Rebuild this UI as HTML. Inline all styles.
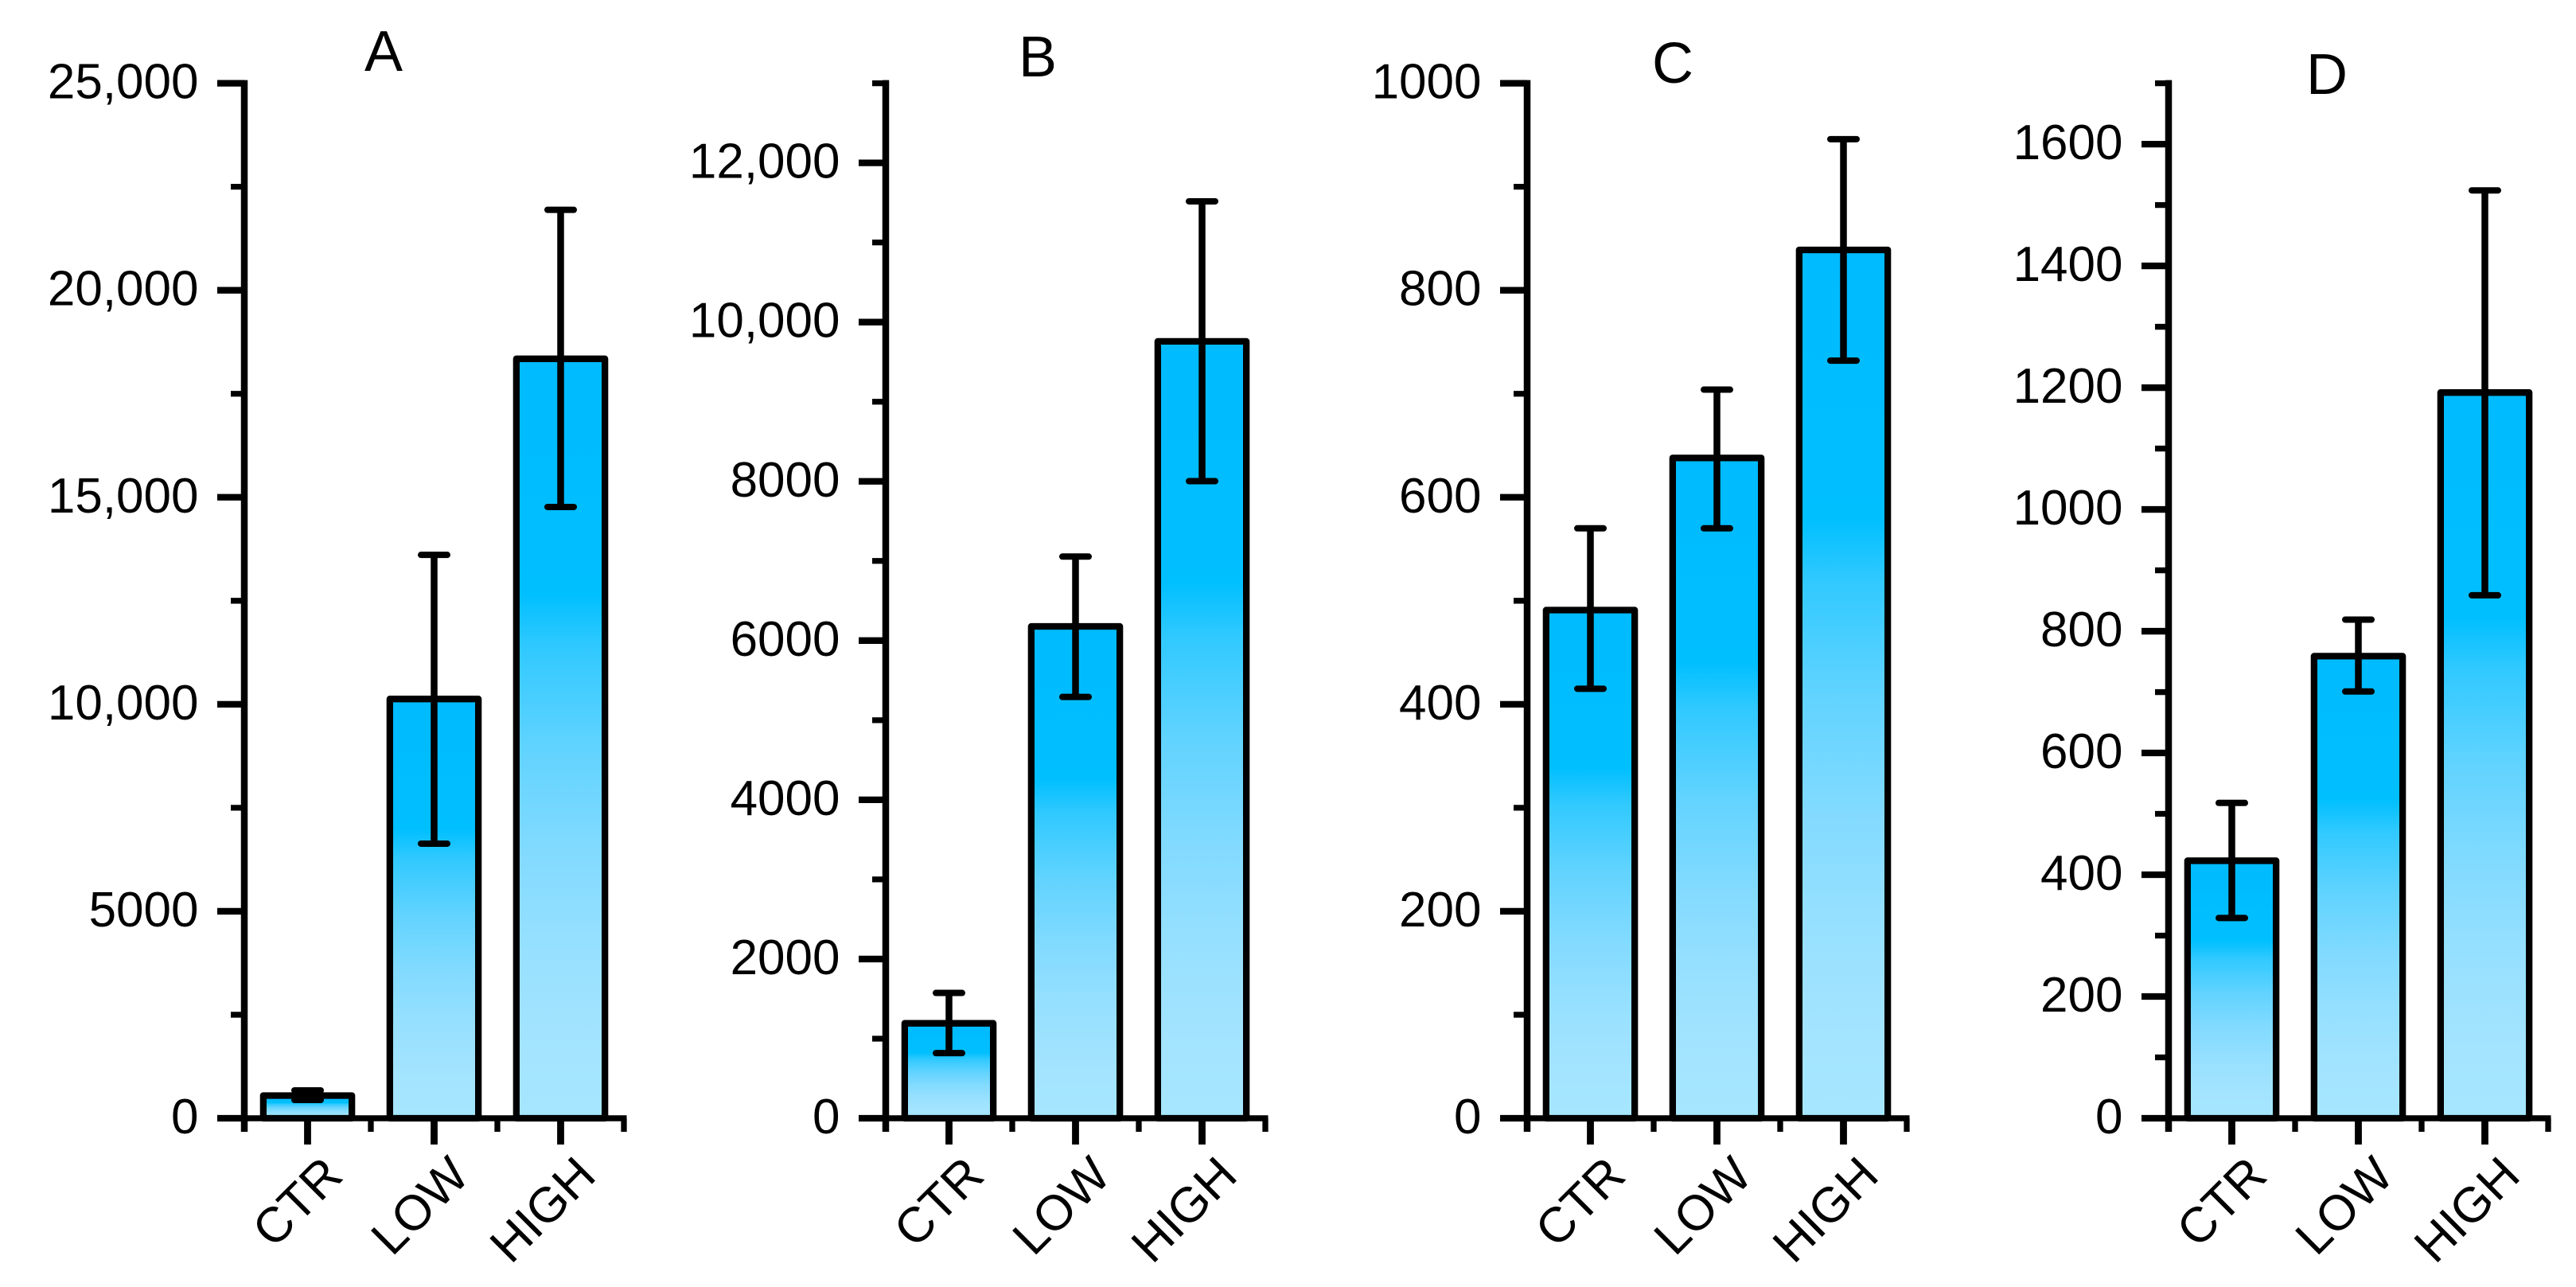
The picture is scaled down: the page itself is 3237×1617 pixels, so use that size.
<!DOCTYPE html>
<html lang="en">
<head>
<meta charset="utf-8">
<title>Bar charts A-D</title>
<style>
html,body{margin:0;padding:0;background:#fff;}
svg{display:block;}
text{font-family:"Liberation Sans",Arial,sans-serif;fill:#000;}
</style>
</head>
<body>
<svg id="figure" xmlns="http://www.w3.org/2000/svg" width="3237" height="1617" viewBox="0 0 3237 1617">
  <defs>
    <linearGradient id="barFill" x1="0" y1="0" x2="0" y2="1">
      <stop offset="0" stop-color="#00BBFF"/>
      <stop offset="0.31" stop-color="#00BFFF"/>
      <stop offset="0.38" stop-color="#30C9FF"/>
      <stop offset="0.51" stop-color="#60D3FF"/>
      <stop offset="0.64" stop-color="#80DAFF"/>
      <stop offset="0.77" stop-color="#96E0FF"/>
      <stop offset="0.90" stop-color="#A3E4FF"/>
      <stop offset="1" stop-color="#A6E6FF"/>
    </linearGradient>
  </defs>
</svg>
<script>
const categories = ['CTR', 'LOW', 'HIGH'];

const meansA = [548, 10128, 18344];
const upperA = [673, 13608, 21943];
const lowerA = [442, 6633, 14765];
const tickValuesA = [0, 5000, 10000, 15000, 20000, 25000];
const tickLabelsA = ['0', '5000', '10,000', '15,000', '20,000', '25,000'];
const minorStepA = 2500;
const yMaxA = 25000;

const meansB = [1193, 6178, 9758];
const upperB = [1574, 7055, 11517];
const lowerB = [818, 5292, 8002];
const tickValuesB = [0, 2000, 4000, 6000, 8000, 10000, 12000];
const tickLabelsB = ['0', '2000', '4000', '6000', '8000', '10,000', '12,000'];
const minorStepB = 1000;
const yMaxB = 13000;

const meansC = [491, 638, 839];
const upperC = [570, 704, 946];
const lowerC = [415, 570, 732];
const tickValuesC = [0, 200, 400, 600, 800, 1000];
const tickLabelsC = ['0', '200', '400', '600', '800', '1000'];
const minorStepC = 100;
const yMaxC = 1000;

const meansD = [423, 759, 1192];
const upperD = [518, 819, 1524];
const lowerD = [329, 701, 859];
const tickValuesD = [0, 200, 400, 600, 800, 1000, 1200, 1400, 1600];
const tickLabelsD = ['0', '200', '400', '600', '800', '1000', '1200', '1400', '1600'];
const minorStepD = 100;
const yMaxD = 1700;

const SVG_NS = 'http://www.w3.org/2000/svg';
const figure = document.getElementById('figure');
const AXIS_TOP = 104.6;
const AXIS_BOTTOM = 1405;

function shape(parent, tag, attrs) {
  const node = document.createElementNS(SVG_NS, tag);
  for (const key in attrs) node.setAttribute(key, attrs[key]);
  parent.appendChild(node);
  return node;
}

function drawLine(parent, x1, y1, x2, y2, width, cap) {
  return shape(parent, 'line', {
    x1: x1, y1: y1, x2: x2, y2: y2,
    stroke: '#000', 'stroke-width': width, 'stroke-linecap': cap || 'butt'
  });
}

function drawPanel(id, title, titleX, titleY, axisX, xSpan, yMax, minorStep, tickValues, tickLabels, means, upper, lower) {
  const yScale = function (v) { return AXIS_BOTTOM - (v / yMax) * (AXIS_BOTTOM - AXIS_TOP); };
  const step = xSpan / categories.length;
  const xScale = function (i) { return axisX + step * (i + 0.5); };
  const barWidth = step * 0.7;

  const panel = shape(figure, 'g', {});
  
  

  const titleEl = shape(panel, 'text', { x: titleX, y: titleY, 'font-size': 72, 'text-anchor': 'middle' });
  titleEl.textContent = title;
  
  

  categories.forEach(function (category, i) {
    const top = yScale(means[i]);
    const bar = shape(panel, 'rect', {
      x: xScale(i) - barWidth / 2, y: top, width: barWidth, height: AXIS_BOTTOM - top,
      fill: 'url(#barFill)', stroke: '#000', 'stroke-width': 8.3, 'stroke-linejoin': 'round'
    });
    
    
  });

  categories.forEach(function (category, i) {
    const x = xScale(i);
    const yHigh = yScale(upper[i]);
    const yLow = yScale(lower[i]);
    const group = shape(panel, 'g', {});
    
    
    drawLine(group, x, yHigh, x, yLow, 8.5);
    drawLine(group, x - 16.5, yHigh, x + 16.5, yHigh, 8, 'round');
    drawLine(group, x - 16.5, yLow, x + 16.5, yLow, 8, 'round');
  });

  const yAxis = shape(panel, 'g', {});
  
  
  const yLine = drawLine(yAxis, axisX, AXIS_TOP - 4, axisX, AXIS_BOTTOM + 17, 8.5);
  
  
  for (let v = 0; v <= yMax + 1e-6; v += minorStep) {
    if (tickValues.indexOf(v) === -1) {
      const minor = drawLine(yAxis, axisX - 17, yScale(v), axisX, yScale(v), 7.3);
      
      
    }
  }
  tickValues.forEach(function (v, i) {
    const major = drawLine(yAxis, axisX - 34, yScale(v), axisX, yScale(v), 8.3);
    
    
    const label = shape(yAxis, 'text', {
      x: axisX - 57.5, y: yScale(v) + 19, 'font-size': 62, 'text-anchor': 'end'
    });
    label.textContent = tickLabels[i];
    
    
  });

  const xAxis = shape(panel, 'g', {});
  
  
  const xLine = drawLine(xAxis, axisX - 34, AXIS_BOTTOM, axisX + xSpan + 3.5, AXIS_BOTTOM, 7.5);
  
  
  for (let i = 1; i <= categories.length; i++) {
    const minor = drawLine(xAxis, axisX + step * i, AXIS_BOTTOM, axisX + step * i, AXIS_BOTTOM + 17, 7.3);
    
    
  }
  categories.forEach(function (category, i) {
    const x = xScale(i);
    const major = drawLine(xAxis, x, AXIS_BOTTOM, x, AXIS_BOTTOM + 33, 8.8);
    
    
    const lx = x + 47;
    const ly = AXIS_BOTTOM + 75;
    const label = shape(xAxis, 'text', {
      x: lx, y: ly, 'font-size': 62, 'text-anchor': 'end',
      transform: 'rotate(-45 ' + lx + ' ' + ly + ')'
    });
    label.textContent = category;
    
    
  });
}

drawPanel('a', 'A', 482, 89, 307, 477, yMaxA, minorStepA, tickValuesA, tickLabelsA, meansA, upperA, lowerA);
drawPanel('b', 'B', 1304, 96, 1113, 477, yMaxB, minorStepB, tickValuesB, tickLabelsB, meansB, upperB, lowerB);
drawPanel('c', 'C', 2102, 104, 1919, 477, yMaxC, minorStepC, tickValuesC, tickLabelsC, meansC, upperC, lowerC);
drawPanel('d', 'D', 2924, 118, 2725, 477, yMaxD, minorStepD, tickValuesD, tickLabelsD, meansD, upperD, lowerD);
</script>
</body>
</html>
